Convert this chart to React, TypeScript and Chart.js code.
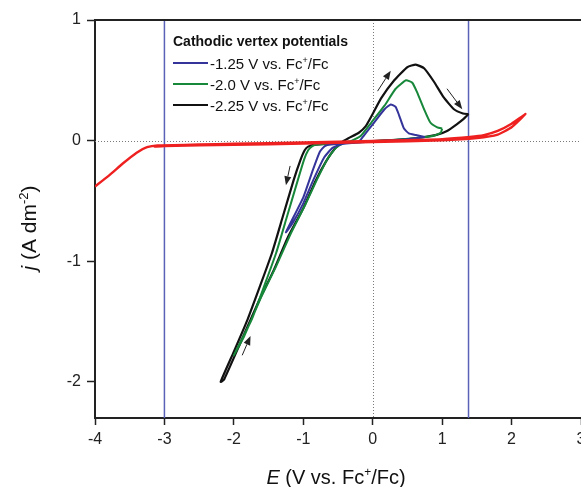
import { useEffect, useRef } from 'react';
import { Chart, registerables } from 'chart.js';

Chart.register(...registerables);

const FONT = '"Liberation Sans", Arial, Helvetica, sans-serif';

// axis ticks
const E_TICKS = [-4, -3, -2, -1, 0, 1, 2, 3];
const J_TICKS = [-2, -1, 0, 1];
const E_MIN = -4;
const E_PX_PER_V = 70;
// vertical guide lines (V vs Fc+/Fc)
const GUIDE_E = [-3, 1.38];

// background scan (E, j)
const redScan: [number, number][] = [
  [-4, -0.38], [-3.8, -0.29], [-3.6, -0.19], [-3.4, -0.1], [-3.25, -0.055], [-3.1, -0.04],
  [-2.5, -0.032], [-2, -0.026], [-1, -0.015], [0, -0.003], [0.5, 0.004], [1, 0.012],
  [1.4, 0.03], [1.6, 0.045], [1.8, 0.08], [2.0, 0.14], [2.2, 0.22],
  [2.0, 0.11], [1.8, 0.05], [1.5, 0.022], [1.0, 0.003], [0, -0.012], [-1, -0.025],
  [-2, -0.035], [-3, -0.045], [-3.15, -0.05],
];

// -2.25 V vertex
const blackScan: [number, number][] = [
  [1.38, 0.22], [1.31, 0.18], [1.21, 0.135], [1.07, 0.08], [0.93, 0.05], [0.74, 0.03],
  [0.55, 0.015], [0.3, 0.005], [0.0, -0.005], [-0.3, -0.015], [-0.6, -0.025], [-0.85, -0.035],
  [-0.93, -0.05], [-0.98, -0.08], [-1.04, -0.16], [-1.14, -0.33], [-1.3, -0.64], [-1.45, -0.93],
  [-1.6, -1.17], [-1.8, -1.48], [-2.0, -1.75], [-2.19, -2.0],
  [-2.14, -1.98], [-1.9, -1.67], [-1.64, -1.33], [-1.43, -1.08], [-1.22, -0.8], [-1.0, -0.56],
  [-0.82, -0.33], [-0.67, -0.17], [-0.55, -0.07], [-0.45, -0.015], [-0.35, 0.02], [-0.2, 0.065],
  [-0.1, 0.12], [-0.02, 0.2], [0.12, 0.35], [0.31, 0.5], [0.5, 0.61], [0.62, 0.63], [0.74, 0.6],
  [0.88, 0.49], [1.02, 0.36], [1.17, 0.26], [1.3, 0.225], [1.38, 0.22],
];

// -2.0 V vertex
const greenScan: [number, number][] = [
  [1.0, 0.1], [0.98, 0.065], [0.88, 0.04], [0.69, 0.025], [0.4, 0.01], [0.0, -0.005],
  [-0.4, -0.02], [-0.8, -0.033], [-0.87, -0.045], [-0.93, -0.08], [-0.99, -0.16], [-1.08, -0.33],
  [-1.24, -0.64], [-1.39, -0.93], [-1.54, -1.17], [-1.74, -1.48], [-2.0, -1.78],
  [-1.85, -1.62], [-1.6, -1.29], [-1.39, -1.04], [-1.18, -0.77], [-0.97, -0.53], [-0.8, -0.32],
  [-0.65, -0.15], [-0.53, -0.06], [-0.42, -0.02], [-0.3, 0.0], [-0.17, 0.04], [-0.02, 0.15],
  [0.17, 0.29], [0.33, 0.43], [0.48, 0.5], [0.57, 0.48], [0.64, 0.4], [0.74, 0.26], [0.83, 0.15],
  [0.93, 0.11], [1.0, 0.1],
];

// -1.25 V vertex
const blueScan: [number, number][] = [
  [0.75, 0.03], [0.5, 0.012], [0.2, 0.0], [-0.2, -0.015], [-0.6, -0.032], [-0.69, -0.045],
  [-0.76, -0.09], [-0.86, -0.24], [-1.0, -0.47], [-1.25, -0.76],
  [-1.15, -0.68], [-1.0, -0.52], [-0.85, -0.32], [-0.7, -0.14], [-0.58, -0.06], [-0.45, -0.03],
  [-0.3, -0.02], [-0.2, -0.01], [-0.13, 0.04], [0.02, 0.15], [0.17, 0.26], [0.26, 0.3],
  [0.33, 0.28], [0.38, 0.21], [0.45, 0.1], [0.52, 0.06], [0.62, 0.047], [0.75, 0.03],
];

// scan direction arrows: [tailE, tailJ, headE, headJ]
const ARROWS: [number, number, number, number][] = [
  [-1.19, -0.21, -1.25, -0.37],
  [-1.88, -1.78, -1.76, -1.62],
  [0.07, 0.41, 0.26, 0.58],
  [1.07, 0.43, 1.29, 0.26],
];

const LEGEND_TITLE = 'Cathodic vertex potentials';
const LEGEND_LABELS = ['-1.25 V vs. Fc', '-2.0 V vs. Fc', '-2.25 V vs. Fc'];
const COLORS = { red: '#ee2020', black: '#111111', green: '#17873a', blue: '#34349a', guide: '#5a62b8' };

type Part = { t: string; it?: boolean; b?: boolean; sup?: boolean };

function partFont(p: Part, size: number) {
  const s = p.sup ? Math.round(size * 0.62) : size;
  return `${p.it ? 'italic ' : ''}${p.b ? 'bold ' : ''}${s}px ${FONT}`;
}

function drawRich(ctx: CanvasRenderingContext2D, parts: Part[], x: number, y: number, size: number, align: 'left' | 'center') {
  let w = 0;
  for (const p of parts) {
    ctx.font = partFont(p, size);
    w += ctx.measureText(p.t).width;
  }
  let cx = align === 'center' ? x - w / 2 : x;
  ctx.textAlign = 'left';
  ctx.textBaseline = 'alphabetic';
  for (const p of parts) {
    ctx.font = partFont(p, size);
    ctx.fillText(p.t, cx, p.sup ? y - size * 0.38 : y);
    cx += ctx.measureText(p.t).width;
  }
}

const decorPlugin = {
  id: 'decor',
  beforeDatasetsDraw(chart: any) {
    const { ctx, chartArea: a, scales } = chart;
    const xs = scales.x, ys = scales.y;
    ctx.save();
    // dotted zero lines
    ctx.strokeStyle = '#7a7a7a';
    ctx.lineWidth = 1;
    ctx.setLineDash([1, 2]);
    const y0 = Math.round(ys.getPixelForValue(0)) + 0.5;
    ctx.beginPath(); ctx.moveTo(a.left, y0); ctx.lineTo(a.right, y0); ctx.stroke();
    const x0 = Math.round(xs.getPixelForValue(0)) + 0.5;
    ctx.beginPath(); ctx.moveTo(x0, a.top); ctx.lineTo(x0, a.bottom); ctx.stroke();
    ctx.setLineDash([]);
    // vertical guides
    ctx.strokeStyle = COLORS.guide;
    ctx.lineWidth = 1.5;
    for (const e of GUIDE_E) {
      const px = xs.getPixelForValue(e);
      ctx.beginPath(); ctx.moveTo(px, a.top); ctx.lineTo(px, a.bottom); ctx.stroke();
    }
    ctx.restore();
  },
  afterDatasetsDraw(chart: any) {
    const { ctx, scales } = chart;
    const xs = scales.x, ys = scales.y;
    ctx.save();
    ctx.strokeStyle = '#222';
    ctx.fillStyle = '#222';
    ctx.lineWidth = 1;
    for (const [te, tj, he, hj] of ARROWS) {
      const x1 = xs.getPixelForValue(te), y1 = ys.getPixelForValue(tj);
      const x2 = xs.getPixelForValue(he), y2 = ys.getPixelForValue(hj);
      const ang = Math.atan2(y2 - y1, x2 - x1);
      const hl = 9, hw = 3.5;
      const bx = x2 - hl * Math.cos(ang), by = y2 - hl * Math.sin(ang);
      ctx.beginPath(); ctx.moveTo(x1, y1); ctx.lineTo(bx, by); ctx.stroke();
      ctx.beginPath();
      ctx.moveTo(x2, y2);
      ctx.lineTo(bx + hw * Math.sin(ang), by - hw * Math.cos(ang));
      ctx.lineTo(bx - hw * Math.sin(ang), by + hw * Math.cos(ang));
      ctx.closePath(); ctx.fill();
    }
    ctx.restore();
  },
  afterDraw(chart: any) {
    const { ctx, chartArea: a } = chart;
    ctx.save();
    // top frame line
    ctx.strokeStyle = '#222';
    ctx.lineWidth = 2;
    ctx.beginPath(); ctx.moveTo(a.left - 1, a.top); ctx.lineTo(a.right + 10, a.top); ctx.stroke();

    ctx.fillStyle = '#111';
    // legend
    const lx = a.left + 78;
    drawRich(ctx, [{ t: LEGEND_TITLE, b: true }], lx, a.top + 26, 14, 'left');
    const cols = [COLORS.blue, COLORS.green, COLORS.black];
    LEGEND_LABELS.forEach((lab, i) => {
      const yy = a.top + 43 + i * 21;
      ctx.strokeStyle = cols[i];
      ctx.lineWidth = 2;
      ctx.beginPath(); ctx.moveTo(lx, yy); ctx.lineTo(lx + 35, yy); ctx.stroke();
      ctx.fillStyle = '#111';
      drawRich(ctx, [{ t: lab }, { t: '+', sup: true }, { t: '/Fc' }], lx + 37, yy + 5.5, 15, 'left');
    });

    // x title
    drawRich(ctx, [{ t: 'E', it: true }, { t: ' (V vs. Fc' }, { t: '+', sup: true }, { t: '/Fc)' }], 336, 484, 20, 'center');
    // y title
    ctx.translate(36, 228);
    ctx.rotate(-Math.PI / 2);
    drawRich(ctx, [{ t: 'j', it: true }, { t: ' (A dm' }, { t: '-2', sup: true }, { t: ')' }], 0, 0, 21, 'center');
    ctx.restore();
  },
};

function line(label: string, data: [number, number][], color: string, width: number) {
  return {
    label,
    data: data.map(([x, y]) => ({ x, y })),
    borderColor: color,
    backgroundColor: color,
    borderWidth: width,
    showLine: true,
    pointRadius: 0,
    tension: 0.15,
    fill: false,
  };
}

export default function App() {
  const ref = useRef<HTMLCanvasElement>(null);
  useEffect(() => {
    if (!ref.current) return;
    const tickFont = { family: FONT, size: 16 };
    const chart = new Chart(ref.current, {
      type: 'scatter',
      data: {
        datasets: [
          line('background', redScan, COLORS.red, 2.4),
          line('-1.25 V', blueScan, COLORS.blue, 2),
          line('-2.0 V', greenScan, COLORS.green, 2),
          line('-2.25 V', blackScan, COLORS.black, 2.2),
        ] as any,
      },
      options: {
        responsive: false,
        animation: false,
        devicePixelRatio: 1,
        layout: { padding: { top: 20, left: 0, right: 0, bottom: 0 } },
        plugins: { legend: { display: false }, tooltip: { enabled: false } },
        scales: {
          x: {
            type: 'linear',
            min: E_MIN,
            max: 3,
            afterDataLimits: (s: any) => {
              const w = s.right - s.left;
              if (w > 100) { s.min = E_MIN; s.max = E_MIN + w / E_PX_PER_V; }
            },
            afterBuildTicks: (s: any) => {
              s.ticks = E_TICKS.filter((v) => v <= s.max + 0.12).map((v) => ({ value: v }));
            },
            afterFit: (s: any) => { s.height = 69; s.paddingLeft = 0; s.paddingRight = 0; },
            ticks: { font: tickFont, color: '#222', padding: 5, maxRotation: 0, autoSkip: false },
            grid: { drawOnChartArea: false, drawTicks: true, tickLength: 7, tickColor: '#222', tickWidth: 1.5 },
            border: { color: '#222', width: 2 },
          },
          y: {
            type: 'linear',
            min: -2.3,
            max: 1,
            afterBuildTicks: (s: any) => { s.ticks = J_TICKS.map((v) => ({ value: v })); },
            afterFit: (s: any) => { s.width = 95; },
            ticks: { font: tickFont, color: '#222', padding: 6, autoSkip: false },
            grid: { drawOnChartArea: false, drawTicks: true, tickLength: 8, tickColor: '#222', tickWidth: 1.5 },
            border: { color: '#222', width: 2 },
          },
        },
      } as any,
      plugins: [decorPlugin],
    });
    return () => chart.destroy();
  }, []);
  return (
    <div style={{ position: 'fixed', left: 0, top: 0, width: 581, height: 487, overflow: 'hidden', background: '#fff' }}>
      <canvas ref={ref} width={581} height={487} style={{ display: 'block', width: 581, height: 487 }} />
    </div>
  );
}
